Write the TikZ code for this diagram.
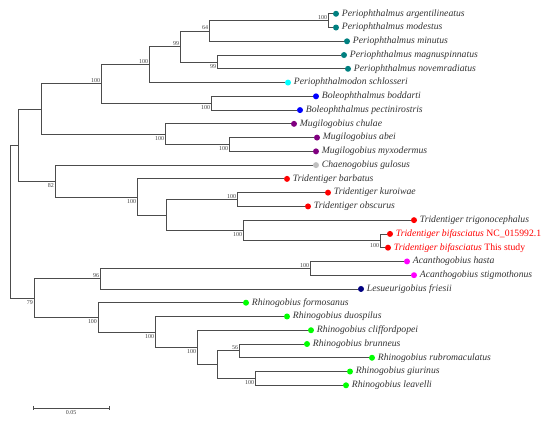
\documentclass[tikz,border=0pt]{standalone}
\usepackage{fontspec}
\setmainfont{Liberation Serif}
\usetikzlibrary{positioning}
\definecolor{perio}{RGB}{0,128,128}
\definecolor{periodon}{RGB}{0,255,255}
\definecolor{boleo}{RGB}{0,0,255}
\definecolor{mugil}{RGB}{128,0,128}
\definecolor{chaeno}{RGB}{192,192,192}
\definecolor{trident}{RGB}{255,0,0}
\definecolor{acantho}{RGB}{255,0,255}
\definecolor{lesueur}{RGB}{0,0,128}
\definecolor{rhino}{RGB}{0,255,0}

\begin{document}
\begin{tikzpicture}[x=1pt,y=-13.76pt,
  branch/.style={draw=black!70,line width=0.8pt},
  tip/.style={circle,inner sep=0pt,minimum size=6pt,fill=#1},
  taxon/.style={inner sep=1pt,font=\fontsize{9.7}{11}\selectfont\itshape,text=black!80},
  boot/.style={inner sep=0.8pt,font=\fontsize{6}{7}\selectfont,text=black!75},
  bootup/.style={boot,anchor=south east},
  bootdown/.style={boot,anchor=north east,yshift=-1.5pt}]
	\useasboundingbox (0,0) rectangle (550,30.67);

	\coordinate (root) at (10,16.10);
	\coordinate (A) at (18,10.54);
	\coordinate (B) at (41,7.92);
	\coordinate (C) at (101,6.09);
	\coordinate (D) at (149,4.69);
	\coordinate (E) at (180,3.375);
	\coordinate (F) at (209,2.25);
	\coordinate (G) at (328,1.5);
	\coordinate (H) at (217,4.5);
	\coordinate (I) at (211,7.5);
	\coordinate (J) at (165,9.75);
	\coordinate (K) at (229,10.5);
	\coordinate (L) at (55,13.16);
	\coordinate (M) at (137,14.31);
	\coordinate (N) at (166,15.625);
	\coordinate (O) at (237,14.5);
	\coordinate (P) at (243,16.75);
	\coordinate (Q) at (380,17.5);
	\coordinate (R) at (34,21.66);
	\coordinate (S) at (100,20.25);
	\coordinate (T) at (310,19.5);
	\coordinate (U) at (98,23.06);
	\coordinate (V) at (155,24.125);
	\coordinate (W) at (197,25.25);
	\coordinate (X) at (217,26.5);
	\coordinate (Y) at (239,25.5);
	\coordinate (Z) at (255,27.5);

	\node (d1) at (336,1) [tip=perio] {};
	\node (d2) at (336,2) [tip=perio] {};
	\node (d3) at (347,3) [tip=perio] {};
	\node (d4) at (344,4) [tip=perio] {};
	\node (d5) at (348,5) [tip=perio] {};
	\node (d6) at (288,6) [tip=periodon] {};
	\node (d7) at (316,7) [tip=boleo] {};
	\node (d8) at (300,8) [tip=boleo] {};
	\node (d9) at (294,9) [tip=mugil] {};
	\node (d10) at (317,10) [tip=mugil] {};
	\node (d11) at (316,11) [tip=mugil] {};
	\node (d12) at (316,12) [tip=chaeno] {};
	\node (d13) at (287,13) [tip=trident] {};
	\node (d14) at (328,14) [tip=trident] {};
	\node (d15) at (308,15) [tip=trident] {};
	\node (d16) at (414,16) [tip=trident] {};
	\node (d17) at (390,17) [tip=trident] {};
	\node (d18) at (388,18) [tip=trident] {};
	\node (d19) at (407,19) [tip=acantho] {};
	\node (d20) at (414,20) [tip=acantho] {};
	\node (d21) at (361,21) [tip=lesueur] {};
	\node (d22) at (246,22) [tip=rhino] {};
	\node (d23) at (287,23) [tip=rhino] {};
	\node (d24) at (311,24) [tip=rhino] {};
	\node (d25) at (307,25) [tip=rhino] {};
	\node (d26) at (372,26) [tip=rhino] {};
	\node (d27) at (350,27) [tip=rhino] {};
	\node (d28) at (346,28) [tip=rhino] {};

	\draw [branch] (root) |- (A) (root) |- (R);
	\draw [branch] (A) |- (B) (A) |- (L);
	\draw [branch] (B) |- (C) (B) |- (J);
	\draw [branch] (C) |- (D) (C) |- (I);
	\draw [branch] (D) |- (E) (D) |- (d6);
	\draw [branch] (E) |- (F) (E) |- (H);
	\draw [branch] (F) |- (G) (F) |- (d3);
	\draw [branch] (G) |- (d1) (G) |- (d2);
	\draw [branch] (H) |- (d4) (H) |- (d5);
	\draw [branch] (I) |- (d7) (I) |- (d8);
	\draw [branch] (J) |- (d9) (J) |- (K);
	\draw [branch] (K) |- (d10) (K) |- (d11);
	\draw [branch] (L) |- (d12) (L) |- (M);
	\draw [branch] (M) |- (d13) (M) |- (N);
	\draw [branch] (N) |- (O) (N) |- (P);
	\draw [branch] (O) |- (d14) (O) |- (d15);
	\draw [branch] (P) |- (d16) (P) |- (Q);
	\draw [branch] (Q) |- (d17) (Q) |- (d18);
	\draw [branch] (R) |- (S) (R) |- (U);
	\draw [branch] (S) |- (T) (S) |- (d21);
	\draw [branch] (T) |- (d19) (T) |- (d20);
	\draw [branch] (U) |- (d22) (U) |- (V);
	\draw [branch] (V) |- (d23) (V) |- (W);
	\draw [branch] (W) |- (d24) (W) |- (X);
	\draw [branch] (X) |- (Y) (X) |- (Z);
	\draw [branch] (Y) |- (d25) (Y) |- (d26);
	\draw [branch] (Z) |- (d27) (Z) |- (d28);

	\node (t1) [taxon,right=1.5pt of d1] {Periophthalmus argentilineatus};
	\node (t2) [taxon,right=1.5pt of d2] {Periophthalmus modestus};
	\node (t3) [taxon,right=1.5pt of d3] {Periophthalmus minutus};
	\node (t4) [taxon,right=1.5pt of d4] {Periophthalmus magnuspinnatus};
	\node (t5) [taxon,right=1.5pt of d5] {Periophthalmus novemradiatus};
	\node (t6) [taxon,right=1.5pt of d6] {Periophthalmodon schlosseri};
	\node (t7) [taxon,right=1.5pt of d7] {Boleophthalmus boddarti};
	\node (t8) [taxon,right=1.5pt of d8] {Boleophthalmus pectinirostris};
	\node (t9) [taxon,right=1.5pt of d9] {Mugilogobius chulae};
	\node (t10) [taxon,right=1.5pt of d10] {Mugilogobius abei};
	\node (t11) [taxon,right=1.5pt of d11] {Mugilogobius myxodermus};
	\node (t12) [taxon,right=1.5pt of d12] {Chaenogobius gulosus};
	\node (t13) [taxon,right=1.5pt of d13] {Tridentiger barbatus};
	\node (t14) [taxon,right=1.5pt of d14] {Tridentiger kuroiwae};
	\node (t15) [taxon,right=1.5pt of d15] {Tridentiger obscurus};
	\node (t16) [taxon,right=1.5pt of d16] {Tridentiger trigonocephalus};
	\node (t17) [taxon,right=1.5pt of d17,text=trident] {Tridentiger bifasciatus \upshape NC\_015992.1};
	\node (t18) [taxon,right=1.5pt of d18,text=trident] {Tridentiger bifasciatus \upshape This study};
	\node (t19) [taxon,right=1.5pt of d19] {Acanthogobius hasta};
	\node (t20) [taxon,right=1.5pt of d20] {Acanthogobius stigmothonus};
	\node (t21) [taxon,right=1.5pt of d21] {Lesueurigobius friesii};
	\node (t22) [taxon,right=1.5pt of d22] {Rhinogobius formosanus};
	\node (t23) [taxon,right=1.5pt of d23] {Rhinogobius duospilus};
	\node (t24) [taxon,right=1.5pt of d24] {Rhinogobius cliffordpopei};
	\node (t25) [taxon,right=1.5pt of d25] {Rhinogobius brunneus};
	\node (t26) [taxon,right=1.5pt of d26] {Rhinogobius rubromaculatus};
	\node (t27) [taxon,right=1.5pt of d27] {Rhinogobius giurinus};
	\node (t28) [taxon,right=1.5pt of d28] {Rhinogobius leavelli};

	\node (bG) at (G) [bootup] {100};
	\node (bF) at (F) [bootup] {64};
	\node (bE) at (E) [bootup] {99};
	\node (bD) at (D) [bootup] {100};
	\node (bC) at (C) [bootup] {100};
	\node (bH) at (H) [bootdown] {99};
	\node (bI) at (I) [bootdown] {100};
	\node (bJ) at (J) [bootdown] {100};
	\node (bK) at (K) [bootdown] {100};
	\node (bL) at (L) [bootdown] {82};
	\node (bM) at (M) [bootdown] {100};
	\node (bO) at (O) [bootup] {100};
	\node (bP) at (P) [bootdown] {100};
	\node (bQ) at (Q) [bootdown] {100};
	\node (bT) at (T) [bootup] {100};
	\node (bS) at (S) [bootup] {96};
	\node (bR) at (R) [bootdown] {79};
	\node (bU) at (U) [bootdown] {100};
	\node (bV) at (V) [bootdown] {100};
	\node (bW) at (W) [bootdown] {100};
	\node (bY) at (Y) [bootup] {56};
	\node (bZ) at (Z) [bootdown] {100};

	\coordinate (s0) at (33,29.65);
	\coordinate (s1) at (109,29.65);
	\coordinate (smid) at (71,29.65);
	\draw [branch] (s0) -- (s1);
	\draw [branch] ([yshift=2pt]s0) -- ([yshift=-2pt]s0);
	\draw [branch] ([yshift=2pt]s1) -- ([yshift=-2pt]s1);
	\node (slabel) [boot,below=2pt of smid] {0.05};
\end{tikzpicture}
\end{document}
